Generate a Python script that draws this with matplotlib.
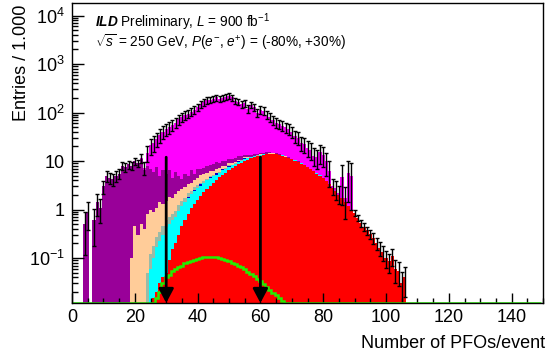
import numpy as np
import matplotlib
matplotlib.use("Agg")
import matplotlib.pyplot as plt
from matplotlib.ticker import MultipleLocator, LogLocator, NullFormatter

plt.rcParams['font.family'] = ['Liberation Sans', 'DejaVu Sans']
plt.rcParams['mathtext.fontset'] = 'custom'
plt.rcParams['mathtext.rm'] = 'Liberation Sans'
plt.rcParams['mathtext.it'] = 'Liberation Sans:italic'
plt.rcParams['mathtext.bf'] = 'Liberation Sans:bold:italic'

# ---------------- DATA (entries per bin, bins of width 1 centred on integers) ----------------
n_bins = 150

red_start = 26
red = [0.015, 0.02, 0.03, 0.04, 0.05, 0.09, 0.15, 0.2, 0.3, 0.45,
       0.6, 0.8, 1.05, 1.3, 1.6, 1.9, 2.3, 2.7, 3.1, 3.5,
       4.0, 4.6, 5.2, 5.8, 6.5, 7.2, 7.8, 8.5, 9.2, 10.0,
       10.7, 11.3, 11.9, 12.5, 13.0, 13.4, 13.8, 14.0, 14.0, 13.8,
       13.3, 12.8, 12.2, 11.5, 10.8, 10.2, 9.6, 8.9, 8.2, 7.5,
       6.8, 6.1, 5.5, 5.0, 4.4, 3.8, 3.3, 2.8, 2.4, 2.0,
       1.7, 1.45, 1.2, 1.0, 0.85, 0.68, 0.52, 0.44, 0.37, 0.31,
       0.26, 0.2, 0.16, 0.13, 0.1, 0.085, 0.11, 0.06, 0.055, 0.03,
       0.04]

cyan_start = 25
cyan = [0.06, 0.085, 0.15, 0.19, 0.26, 0.38, 0.41, 0.45, 0.5, 0.65,
        0.75, 0.8, 0.9, 1.05, 1.1, 1.2, 1.2, 1.2, 1.3, 1.3,
        1.3, 1.2, 1.2, 1.2, 1.2, 1.1, 1.0, 1.0, 1.0, 1.0,
        0.9, 0.8, 0.7, 0.6, 0.5, 0.45, 0.4, 0.35, 0.3, 0.28,
        0.26, 0.24, 0.22, 0.2, 0.18, 0.16, 0.14, 0.12, 0.1, 0.09,
        0.08, 0.07, 0.06, 0.05, 0.04, 0.035, 0.03, 0.025, 0.02, 0.02,
        0.015, 0.01]

blue_start = 37
blue = [0.1, 0, 0.15, 0, 0.2, 0, 0, 0.3, 0, 0.35,
        0, 0.4, 0, 0.45, 0, 0, 0.5, 0, 0.5]

gray_start = 24
gray = [0.05, 0.06, 0.08, 0.1, 0.12, 0.15, 0.18, 0.2, 0.22, 0.25,
        0.28, 0.3, 0.32, 0.35, 0.35, 0.35, 0.35, 0.3, 0.3, 0.3,
        0.25, 0.25, 0.2, 0.18, 0.16, 0.15, 0.14, 0.13, 0.12, 0.11,
        0.1, 0.1, 0.09, 0.08, 0.07, 0.06, 0.05]

tan_start = 19
tan = [0.1, 0.45, 0.3, 0.5, 0.4, 0.75, 0.88, 0.72, 0.83, 1.06,
       0.85, 0.89, 1.1, 0.88, 1.15, 1.17, 1.1, 1.18, 1.25, 1.15,
       1.25, 1.25, 1.6, 1.5, 1.4, 1.35, 1.25, 1.2, 1.05, 0.95,
       0.85, 0.75, 0.65, 0.65, 0.55, 0.45, 0.35, 0.3, 0.28, 0.25,
       0.22, 0.2, 0.18, 0.16, 0.14, 0.12, 0.1, 0.09, 0.08, 0.07,
       0.06, 0.05]

purple_start = 4
purple = [0.5, 0.9, 0, 0.6, 1.4, 1.1, 3.0, 5.0, 4.5, 4.2,
          5.0, 5.5, 8.0, 7.5, 8.5, 7.9, 9.5, 8.7, 10.5, 6.1,
          7.2, 6.0, 5.1, 6.4, 3.6, 5.2, 4.0, 4.7, 2.8, 3.9,
          2.6, 1.6, 2.6, 1.5, 2.9, 1.2, 2.6, 1.5, 1.9, 2.3,
          1.8, 2.2, 2.4, 2.2, 2.1, 2.0, 2.0, 2.0, 1.9, 1.8,
          1.7, 1.5, 1.3, 1.2, 1.1, 1.0, 0.9, 0.8, 0.7, 0.6,
          0.5, 0.45, 0.4, 0.35, 0.3, 0.25, 0.2, 0.18, 0.15, 0.12,
          0.1, 0.08]

magenta_start = 22
magenta = [0.5, 0.8, 7, 14, 18, 21.5, 29, 33.5, 39.5, 43.5,
           51.5, 56, 67, 75.8, 84.5, 90.2, 98.5, 109.8, 123, 143.5,
           157.8, 172, 177.2, 186.5, 196, 185.8, 190.4, 200, 209.5, 194,
           163.5, 153, 137.5, 142, 107, 131.5, 116, 85.7, 100.4, 93.2,
           75, 65, 55.1, 47.4, 44, 40.5, 37.2, 34, 28.8, 22.5,
           20.1, 14.9, 13.6, 11.3, 10.1, 6.8, 6.5, 10, 9, 6,
           3, 0.3, 0.3, 0.2, 3, 0.3, 4.5, 4.0]

green_start = 27
green = [0.015, 0.02, 0.03, 0.04, 0.045, 0.055, 0.06, 0.065, 0.07, 0.078,
         0.083, 0.088, 0.092, 0.097, 0.1, 0.104, 0.106, 0.107, 0.107, 0.105,
         0.1, 0.096, 0.09, 0.085, 0.08, 0.076, 0.07, 0.064, 0.058, 0.052,
         0.047, 0.042, 0.037, 0.033, 0.029, 0.025, 0.022, 0.019, 0.017, 0.015,
         0.013, 0.012]

# per-sample event weights (for statistical error bars)
weights = [0.015, 0.08, 0.08, 0.08, 0.2, 0.3, 4.0]

cut_values = [30, 60]
arrow_top = 12

def full(start, vals):
    a = np.zeros(n_bins)
    a[start:start + len(vals)] = vals
    return a

stack = np.array([full(red_start, red), full(cyan_start, cyan), full(blue_start, blue),
                  full(gray_start, gray), full(tan_start, tan), full(purple_start, purple),
                  full(magenta_start, magenta)])
colors = ["#ff0000", "#00ffff", "#0000cc", "#99bba8", "#ffcc99", "#990099", "#ff00ff"]
g = full(green_start, green)

edges = np.arange(n_bins + 1) - 0.5
centers = np.arange(n_bins)
ybot, ytop = 0.0118, 18200

# ---------------- PLOT ----------------
fig = plt.figure(figsize=(5.5, 3.6), dpi=100)
ax = fig.add_axes([72/550, 57/360, 471/550, 300/360])
ax.set_yscale("log")

cum = np.cumsum(stack, axis=0)
for i in range(len(stack) - 1, -1, -1):
    vals = np.where(cum[i] > 0, cum[i], ybot)
    ax.stairs(vals, edges, baseline=ybot, fill=True, color=colors[i], lw=0)

total = cum[-1]
err = np.sqrt((stack * np.array(weights)[:, None]).sum(axis=0))
m = total > 0
lo = np.where(err[m] >= total[m], total[m] - ybot * 0.5, err[m])
ax.errorbar(centers[m], total[m], yerr=[lo, err[m]], fmt='none', ecolor='black',
            elinewidth=1, capsize=1.5, capthick=1, zorder=3)

ax.stairs(np.where(g > 0, g, ybot), edges, baseline=None, color="#22ee00", lw=1.8, zorder=4)

for xc in cut_values:
    ax.annotate('', xy=(xc, ybot), xytext=(xc, arrow_top),
                arrowprops=dict(arrowstyle='-|>,head_length=0.85,head_width=0.45',
                                mutation_scale=10, lw=2, color='black',
                                shrinkA=0, shrinkB=0),
                annotation_clip=False, zorder=5)

ax.set_xlim(0, 150)
ax.set_ylim(ybot, ytop)

ax.xaxis.set_major_locator(MultipleLocator(20))
ax.xaxis.set_minor_locator(MultipleLocator(5))
ax.set_yticks([1e-1, 1, 10, 1e2, 1e3, 1e4])
ax.set_yticklabels([r"$10^{-1}$", "1", "10", r"$10^{2}$", r"$10^{3}$", r"$10^{4}$"])
ax.yaxis.set_minor_locator(LogLocator(base=10, subs=np.arange(2, 10)))
ax.yaxis.set_minor_formatter(NullFormatter())

ax.tick_params(axis='both', which='both', direction='in', right=False, top=False,
               labelsize=13, width=1)
ax.tick_params(axis='x', which='major', length=7, pad=4)
ax.tick_params(axis='x', which='minor', length=3.5)
ax.tick_params(axis='y', which='major', length=8.5, pad=5)
ax.tick_params(axis='y', which='minor', length=4.3)
for s in ax.spines.values():
    s.set_linewidth(1)
    s.set_zorder(6)

ax.text(0.049, 0.937, r"$\mathbf{ILD}$ Preliminary, $L$ = 900 fb$^{-1}$",
        transform=ax.transAxes, fontsize=9.8, va='center')
ax.text(0.049, 0.87, r"$\sqrt{s}$ = 250 GeV, $P$($e^{-}$, $e^{+}$) = (-80%, +30%)",
        transform=ax.transAxes, fontsize=9.8, va='center')

fig.text(22/550, 1 - 5/360, "Entries / 1.000", rotation=90, ha='center', va='top', fontsize=13)
fig.text(545/550, 1 - 343/360, "Number of PFOs/event", ha='right', va='center', fontsize=13)

fig.savefig("out.png", dpi=100)
